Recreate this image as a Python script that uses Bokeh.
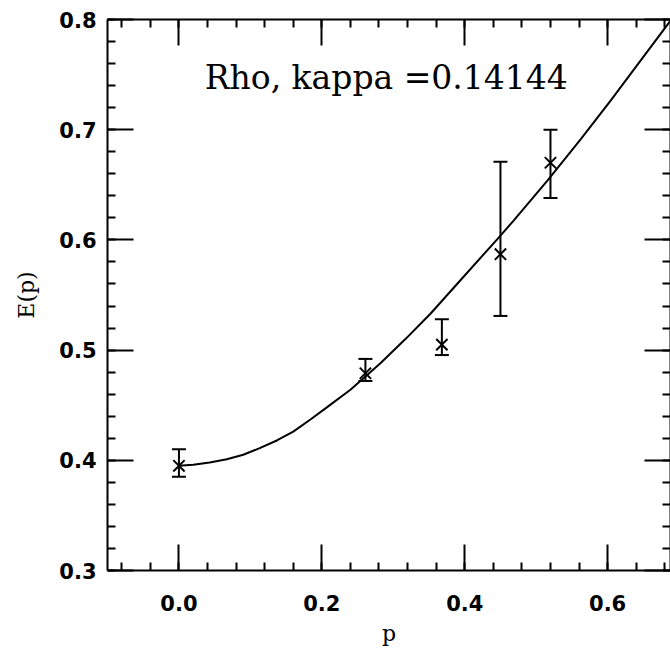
from bokeh.plotting import figure
from bokeh.models import (Range1d, LinearAxis, SingleIntervalTicker, PrintfTickFormatter,
                          CustomJSTickFormatter, Label, Whisker, ColumnDataSource, TeeHead)
from bokeh.embed import file_html
from bokeh.resources import INLINE

# measured points
p_data = [0.000, 0.261, 0.368, 0.450, 0.520]
e_data = [0.395, 0.479, 0.505, 0.587, 0.670]
e_upper = [0.410, 0.492, 0.528, 0.671, 0.700]
e_lower = [0.385, 0.472, 0.4955, 0.531, 0.638]

# fitted dispersion curve
fit_p = [0.000, 0.020, 0.043, 0.067, 0.090, 0.113, 0.137, 0.160, 0.184, 0.207,
         0.240, 0.282, 0.317, 0.352, 0.399, 0.446, 0.469, 0.516, 0.563, 0.605,
         0.628, 0.688]
fit_e = [0.395, 0.396, 0.398, 0.401, 0.405, 0.411, 0.418, 0.426, 0.437, 0.448,
         0.464, 0.488, 0.510, 0.533, 0.567, 0.601, 0.618, 0.654, 0.692, 0.727,
         0.747, 0.799]

title_text = "Rho, kappa =0.14144"
x_label = "p"
y_label = "E(p)"

p = figure(width=670, height=652,
           x_range=Range1d(-0.1, 0.688), y_range=Range1d(0.3, 0.8),
           output_backend="svg", toolbar_location=None,
           min_border_left=107, min_border_right=0, min_border_top=19,
           min_border_bottom=82, x_axis_label=x_label, y_axis_label=y_label)
p.xgrid.visible = False
p.ygrid.visible = False
p.outline_line_color = None
p.background_fill_color = "white"
p.border_fill_color = "white"

bottom_ax = p.below[0]
left_ax = p.left[0]
top_ax = LinearAxis()
right_ax = LinearAxis()
p.add_layout(top_ax, "above")
p.add_layout(right_ax, "right")


def style(ax, interval):
    ax.ticker = SingleIntervalTicker(interval=interval, num_minor_ticks=5)
    ax.formatter = PrintfTickFormatter(format="%.1f")
    ax.axis_line_width = 2
    ax.axis_line_color = "black"
    ax.major_tick_line_width = 2
    ax.minor_tick_line_width = 2
    ax.major_tick_line_color = "black"
    ax.minor_tick_line_color = "black"
    ax.major_tick_in = 26
    ax.major_tick_out = 0
    ax.minor_tick_in = 8
    ax.minor_tick_out = 0
    ax.major_label_text_font = "DejaVu Sans"
    ax.major_label_text_font_style = "bold"
    ax.major_label_text_font_size = "21px"
    ax.major_label_text_color = "black"
    ax.axis_label_text_font = "DejaVu Serif"
    ax.axis_label_text_font_style = "normal"
    ax.axis_label_text_font_size = "22px"
    ax.axis_label_text_color = "black"


style(bottom_ax, 0.2)
style(top_ax, 0.2)
style(left_ax, 0.1)
style(right_ax, 0.1)

bottom_ax.major_label_standoff = 24
bottom_ax.axis_label_standoff = 7
left_ax.major_label_standoff = 11
left_ax.axis_label_standoff = 17

for ax in (top_ax, right_ax):
    ax.formatter = CustomJSTickFormatter(code="return ''")
    ax.major_label_standoff = 0

src = ColumnDataSource(dict(p=p_data, e=e_data, upper=e_upper, lower=e_lower))

p.line(fit_p, fit_e, line_color="black", line_width=2)

w = Whisker(source=src, base="p", upper="upper", lower="lower", dimension="height",
            line_color="black", line_width=2,
            upper_head=TeeHead(size=14, line_width=2, line_color="black"),
            lower_head=TeeHead(size=14, line_width=2, line_color="black"))
p.add_layout(w)

p.scatter("p", "e", source=src, marker="x", size=16, line_width=2, line_color="black")

lab = Label(x=0.036, y=0.7476, text=title_text, text_font="DejaVu Serif",
            text_font_size="33px", text_baseline="alphabetic", text_align="left",
            text_color="black")
p.add_layout(lab)

open("out.html", "w").write(file_html(p, INLINE))
